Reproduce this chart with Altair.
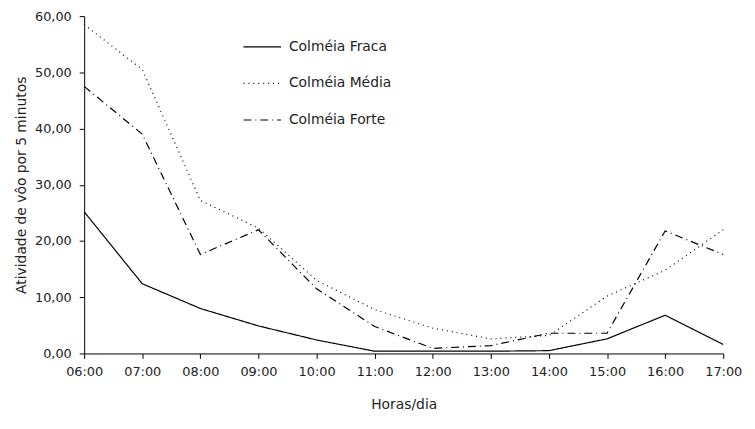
import altair as alt
import pandas as pd

hours = ["06:00", "07:00", "08:00", "09:00", "10:00", "11:00",
         "12:00", "13:00", "14:00", "15:00", "16:00", "17:00"]
fraca = [25.2, 12.4, 8.0, 4.9, 2.4, 0.4, 0.4, 0.4, 0.5, 2.6, 6.8, 1.6]
media = [58.5, 50.5, 27.2, 22.3, 13.0, 7.8, 4.5, 2.6, 3.2, 10.2, 14.8, 22.0]
forte = [47.5, 39.0, 17.6, 22.0, 11.5, 4.8, 0.9, 1.4, 3.6, 3.6, 21.8, 17.6]
series = ["Colméia Fraca", "Colméia Média", "Colméia Forte"]

rows = []
for name, vals in zip(series, [fraca, media, forte]):
    for h, v in zip(hours, vals):
        rows.append({"hora": h, "valor": v, "serie": name})
df = pd.DataFrame(rows)

FONT = "DejaVu Sans"
TXT = "#222222"

chart = alt.Chart(df).mark_line(color="black", strokeWidth=1.2).encode(
    x=alt.X("hora:O", sort=hours,
            scale=alt.Scale(type="point", padding=0),
            axis=alt.Axis(title="Horas/dia", labelAngle=0, grid=False,
                          domainColor="black", tickColor="black",
                          labelColor=TXT, titleColor=TXT,
                          labelFont=FONT, titleFont=FONT,
                          labelFontSize=13, titleFontSize=14,
                          titleFontWeight="normal", titlePadding=20,
                          labelPadding=7, tickSize=5)),
    y=alt.Y("valor:Q", scale=alt.Scale(domain=[0, 60], nice=False),
            axis=alt.Axis(title="Atividade de vôo  por 5 minutos",
                          values=[0, 10, 20, 30, 40, 50, 60], grid=False,
                          labelExpr="replace(format(datum.value, '.2f'), '.', ',')",
                          domainColor="black", tickColor="black",
                          labelColor=TXT, titleColor=TXT,
                          labelFont=FONT, titleFont=FONT,
                          labelFontSize=13, titleFontSize=14,
                          titleFontWeight="normal", titlePadding=6,
                          labelPadding=8, tickSize=5)),
    strokeDash=alt.StrokeDash("serie:N", sort=series,
                              scale=alt.Scale(domain=series,
                                              range=[[1, 0], [1, 4], [8, 4, 1, 4]]),
                              legend=alt.Legend(title=None, orient="none",
                                                legendX=160, legendY=11,
                                                symbolType="stroke",
                                                symbolSize=1444,
                                                symbolStrokeColor="black",
                                                symbolStrokeWidth=1.2,
                                                labelFont=FONT, labelFontSize=14,
                                                labelColor=TXT,
                                                labelOffset=7,
                                                rowPadding=10)),
).properties(
    width=646, height=341,
    autosize=alt.AutoSizeParams(type="none"),
    padding={"left": 77, "top": 6, "right": 24, "bottom": 60},
).configure_view(stroke=None)

chart.save("out.html", embed_options={"renderer": "svg", "actions": False})
